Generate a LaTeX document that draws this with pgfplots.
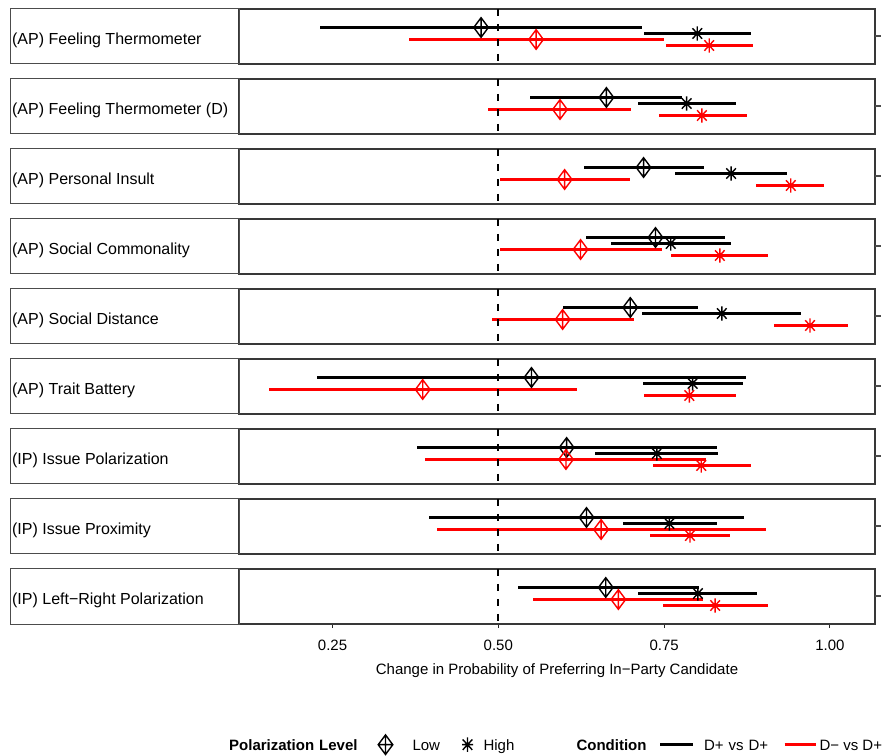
\documentclass[border=0pt]{standalone}
\usepackage{fontspec}
\setmainfont{Liberation Sans}
\usepackage{pgfplots}
\usepackage{pgfplotstable}
\pgfplotsset{compat=1.18}

\newcommand\fsize{\fontsize{15bp}{18bp}\selectfont}
\newcommand\fsizeb{\fontsize{16bp}{19bp}\selectfont}

% Low polarization, D+ vs D+ (black diamond)
\pgfplotstableread{
p est lo hi
0 0.474 0.231 0.717
1 0.663 0.548 0.777
2 0.719 0.629 0.810
3 0.737 0.632 0.842
4 0.699 0.598 0.801
5 0.550 0.226 0.873
6 0.603 0.378 0.830
7 0.633 0.396 0.870
8 0.662 0.530 0.802
}\tblBL
% High polarization, D+ vs D+ (black star)
\pgfplotstableread{
p est lo hi
0 0.800 0.720 0.881
1 0.784 0.711 0.858
2 0.851 0.767 0.936
3 0.760 0.670 0.851
4 0.837 0.717 0.957
5 0.793 0.718 0.869
6 0.739 0.646 0.832
7 0.758 0.688 0.829
8 0.801 0.711 0.890
}\tblBH
% Low polarization, D- vs D+ (red diamond)
\pgfplotstableread{
p est lo hi
0 0.557 0.365 0.750
1 0.593 0.485 0.700
2 0.600 0.502 0.698
3 0.624 0.502 0.747
4 0.597 0.490 0.704
5 0.386 0.154 0.619
6 0.602 0.390 0.813
7 0.655 0.408 0.903
8 0.681 0.553 0.808
}\tblRL
% High polarization, D- vs D+ (red star)
\pgfplotstableread{
p est lo hi
0 0.818 0.753 0.884
1 0.807 0.742 0.875
2 0.941 0.889 0.991
3 0.834 0.761 0.906
4 0.970 0.916 1.027
5 0.788 0.720 0.859
6 0.806 0.733 0.881
7 0.789 0.729 0.849
8 0.827 0.748 0.906
}\tblRH

\pgfdeclareplotmark{dplus}{%
  \pgfpathmoveto{\pgfqpoint{0bp}{9.8bp}}%
  \pgfpathlineto{\pgfqpoint{7.3bp}{0bp}}%
  \pgfpathlineto{\pgfqpoint{0bp}{-9.8bp}}%
  \pgfpathlineto{\pgfqpoint{-7.3bp}{0bp}}%
  \pgfpathclose
  \pgfpathmoveto{\pgfqpoint{0bp}{9.8bp}}\pgfpathlineto{\pgfqpoint{0bp}{-9.8bp}}%
  \pgfpathmoveto{\pgfqpoint{-7.3bp}{0bp}}\pgfpathlineto{\pgfqpoint{7.3bp}{0bp}}%
  \pgfusepathqstroke}
\pgfdeclareplotmark{rstar}{%
  \pgfpathmoveto{\pgfqpoint{0bp}{7.2bp}}\pgfpathlineto{\pgfqpoint{0bp}{-7.2bp}}%
  \pgfpathmoveto{\pgfqpoint{-5.5bp}{0bp}}\pgfpathlineto{\pgfqpoint{5.5bp}{0bp}}%
  \pgfpathmoveto{\pgfqpoint{-4.8bp}{-5.2bp}}\pgfpathlineto{\pgfqpoint{4.8bp}{5.2bp}}%
  \pgfpathmoveto{\pgfqpoint{-4.8bp}{5.2bp}}\pgfpathlineto{\pgfqpoint{4.8bp}{-5.2bp}}%
  \pgfusepathqstroke}

\pgfplotsset{
  panel/.style={
    scale only axis, width=636bp, height=55bp, anchor=north west,
    xmin=0.109, xmax=1.068, ymin=0, ymax=1,
    axis line style={draw=black!78, line width=2bp},
    xtick=\empty, ytick=\empty,
    tick align=outside, major tick length=4bp,
    clip=false,
  },
}

% series: table, colour, mark, y position, panel index
\newcommand\ser[5]{%
  \addplot[forget plot, only marks, color=#2, mark=#3,
    mark options={solid, line width=1.4bp},
    restrict expr to domain={\thisrow{p}}{#5:#5},
    error bars/x dir=both, error bars/x explicit, error bars/error mark=none,
    error bars/error bar style={line width=3bp, color=#2, solid}]
    table[x=est, y expr=#4,
      x error plus expr=\thisrow{hi}-\thisrow{est},
      x error minus expr=\thisrow{est}-\thisrow{lo}] {#1};}

% [options]{index}{label}{top y}{extra content}
\newcommand\drawpanel[5][]{%
  \begin{axis}[panel, at={(239bp,#4bp)}, #1]
    \draw[line width=1bp, draw=black!70] (rel axis cs:-0.35928,0) rectangle (rel axis cs:0,1);
    \node[anchor=base west, inner sep=0pt, font=\fsizeb] at (rel axis cs:-0.357,0.36) {#3};
    \draw[line width=2bp, draw=black!70] (rel axis cs:1,0.5) -- ++(6bp,0bp);
    \ser{\tblBL}{black}{dplus}{0.66364}{#2}
    \ser{\tblBH}{black}{rstar}{0.55455}{#2}
    \ser{\tblRL}{red}{dplus}{0.44545}{#2}
    \ser{\tblRH}{red}{rstar}{0.33636}{#2}
    \addplot[forget plot, black, line width=2bp, dash pattern=on 7.5bp off 7.5bp] coordinates {(0.5,1) (0.5,0)};
    #5
  \end{axis}}

\begin{document}
\begin{tikzpicture}
\useasboundingbox (0bp,0bp) rectangle (884bp,756bp);
\drawpanel{0}{(AP) Feeling Thermometer}{747}{}
\drawpanel{1}{(AP) Feeling Thermometer (D)}{677}{}
\drawpanel{2}{(AP) Personal Insult}{607}{}
\drawpanel{3}{(AP) Social Commonality}{537}{}
\drawpanel{4}{(AP) Social Distance}{467}{}
\drawpanel{5}{(AP) Trait Battery}{397}{}
\drawpanel{6}{(IP) Issue Polarization}{327}{}
\drawpanel{7}{(IP) Issue Proximity}{257}{}
\drawpanel[
  xtick={0.25,0.5,0.75,1}, xticklabels={0.25,0.50,0.75,1.00},
  xtick pos=bottom, xtick style={line width=1bp, draw=black!85},
  xticklabel style={font=\fsize, anchor=base, yshift=-22bp},
  xlabel={Change in Probability of Preferring In−Party Candidate},
  xlabel style={font=\fsize, at={(rel axis cs:0.5,0)}, anchor=base, yshift=-50bp},
  legend columns=-1,
  legend style={at={(rel axis cs:-0.0157,-2.1945)}, anchor=west, draw=none, fill=none,
    inner sep=0pt, column sep=0pt, row sep=0pt,
    nodes={inner sep=0pt, text height=11bp, text depth=0bp, font=\fsize},
    cells={anchor=west}},
]{8}{(IP) Left−Right Polarization}{187}{
  \addlegendimage{empty legend}
  \addlegendentry[text width=149bp]{\textbf{Polarization Level}}
  \addlegendimage{legend image code/.code={\path[draw=none,fill=none] (0bp,0bp) -- (34bp,0bp); \draw[black, line width=1.4bp, mark=dplus] plot coordinates {(7bp,0bp)};}}
  \addlegendentry[text width=47bp]{Low}
  \addlegendimage{legend image code/.code={\path[draw=none,fill=none] (0bp,0bp) -- (24bp,0bp); \draw[black, line width=1.4bp, mark=rstar] plot coordinates {(8bp,0bp)};}}
  \addlegendentry[text width=93bp]{High}
  \addlegendimage{empty legend}
  \addlegendentry[text width=82bp]{\textbf{Condition}}
  \addlegendimage{legend image code/.code={\path[draw=none,fill=none] (0bp,0bp) -- (44bp,0bp); \draw[black, line width=3bp] (0bp,0bp) -- (33bp,0bp);}}
  \addlegendentry[text width=79bp]{D+ vs D+}
  \addlegendimage{legend image code/.code={\path[draw=none,fill=none] (0bp,0bp) -- (35bp,0bp); \draw[red, line width=3bp] (0bp,0bp) -- (31bp,0bp);}}
  \addlegendentry{D− vs D+}
}
\end{tikzpicture}
\end{document}
